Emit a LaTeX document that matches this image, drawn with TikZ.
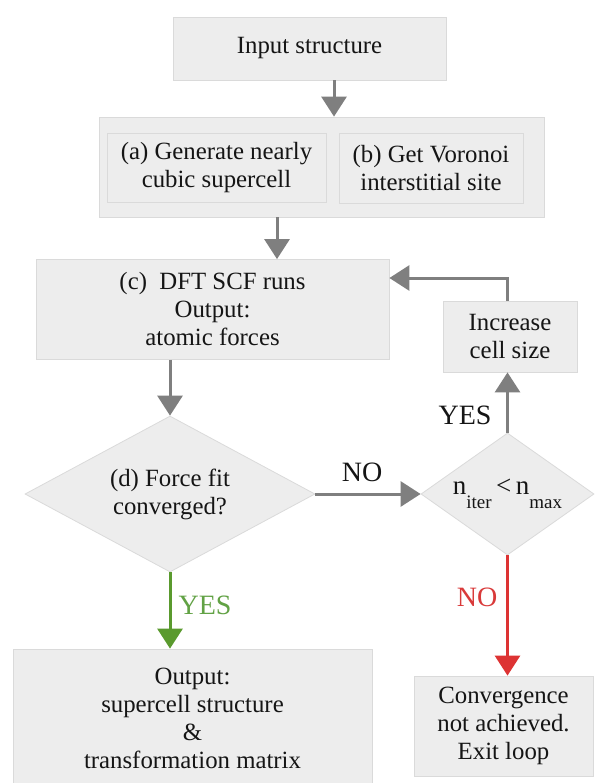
\documentclass[tikz,border=0pt]{standalone}
\usepackage{fontspec}
\setmainfont{Liberation Serif}
\usetikzlibrary{arrows.meta,shapes.geometric}
\definecolor{boxfill}{HTML}{EDEDED}
\definecolor{boxline}{HTML}{DADADA}
\definecolor{arrgray}{HTML}{7F7F7F}
\definecolor{arrgreen}{HTML}{5A9A2E}
\definecolor{txtgreen}{HTML}{62A245}
\definecolor{arrred}{HTML}{DD3333}
\definecolor{txtred}{HTML}{D93A3A}
\definecolor{txtdark}{HTML}{151515}
\tikzset{
  box/.style={draw=boxline, line width=0.8pt, fill=boxfill, inner sep=0pt, align=center,
    text=txtdark, font=\fontsize{24.8}{28}\selectfont},
  dia/.style={diamond, draw=boxline, line width=0.8pt, fill=boxfill, inner sep=0pt, align=center,
    text=txtdark, font=\fontsize{24.8}{28}\selectfont},
  arr/.style={draw=arrgray, line width=3pt, -{Triangle[width=25pt,length=20pt]}},
  lbl/.style={font=\fontsize{28}{30}\selectfont, text=txtdark, inner sep=0pt}
}
\begin{document}
\begin{tikzpicture}[x=1pt,y=-1pt]
\path[use as bounding box] (0,0) rectangle (594,783);
\fill[white] (0,0) rectangle (594,783);

\node[box, minimum width=273pt, minimum height=63pt] (inp) at (309.5,48.5) {Input structure};

\node[box, minimum width=445pt, minimum height=100pt] (cont) at (321.5,167) {};
\node[box, minimum width=219pt, minimum height=69pt] (boxa) at (216.5,167.5) {(a) Generate nearly\\cubic supercell};
\node[box, minimum width=184pt, minimum height=70pt] (boxb) at (431,168) {(b) Get Voronoi\\interstitial site};

\node[box, minimum width=353pt, minimum height=100pt] (dft) at (212.5,309.5) {(c)\ \ DFT SCF runs\\Output:\\atomic forces};

\node[dia, aspect=1.86, minimum width=290pt, minimum height=156pt] (dfit) at (170,494) {(d) Force fit\\converged?};

\node[dia, aspect=1.42, minimum width=173pt, minimum height=122pt] (dconv) at (507.5,494)
  {\fontsize{27}{28}\selectfont n\raisebox{-14pt}{\fontsize{19}{19}\selectfont iter}\,<\,n\raisebox{-14pt}{\fontsize{19}{19}\selectfont max}};

\node[box, minimum width=134pt, minimum height=71pt] (inc) at (510,336.5) {Increase\\cell size};

\node[box, minimum width=359pt, minimum height=139pt] (out) at (192.5,718.5) {Output:\\supercell structure\\\&\\transformation matrix};

\node[box, minimum width=179pt, minimum height=100pt] (conv) at (503.5,726) {Convergence\\not achieved.\\Exit loop};

\coordinate (x1) at (334,0);
\coordinate (x2) at (277,0);
\coordinate (ly) at (0,278);

\draw[arr] (inp.south -| x1) -- (cont.north -| x1);
\draw[arr] (cont.south -| x2) -- (dft.north -| x2);
\draw[arr] (dft.south -| dfit.north) -- (dfit.north);
\draw[arr] (dfit.east) -- (dconv.west);
\draw[arr] (dconv.north) -- (inc.south -| dconv.north);
\draw[arr] (inc.north -| dconv.north) |- (dft.east |- ly);
\draw[arr, draw=arrgreen] (dfit.south) -- (out.north -| dfit.south);
\draw[arr, draw=arrred] (dconv.south) -- (conv.north -| dconv.south);

\node[lbl] (lno) at (362,472) {NO};
\node[lbl] (lyes) at (465,415) {YES};
\node[lbl, text=txtgreen] (gyes) at (205,605) {YES};
\node[lbl, text=txtred] (rno) at (477,597) {NO};
\end{tikzpicture}
\end{document}
